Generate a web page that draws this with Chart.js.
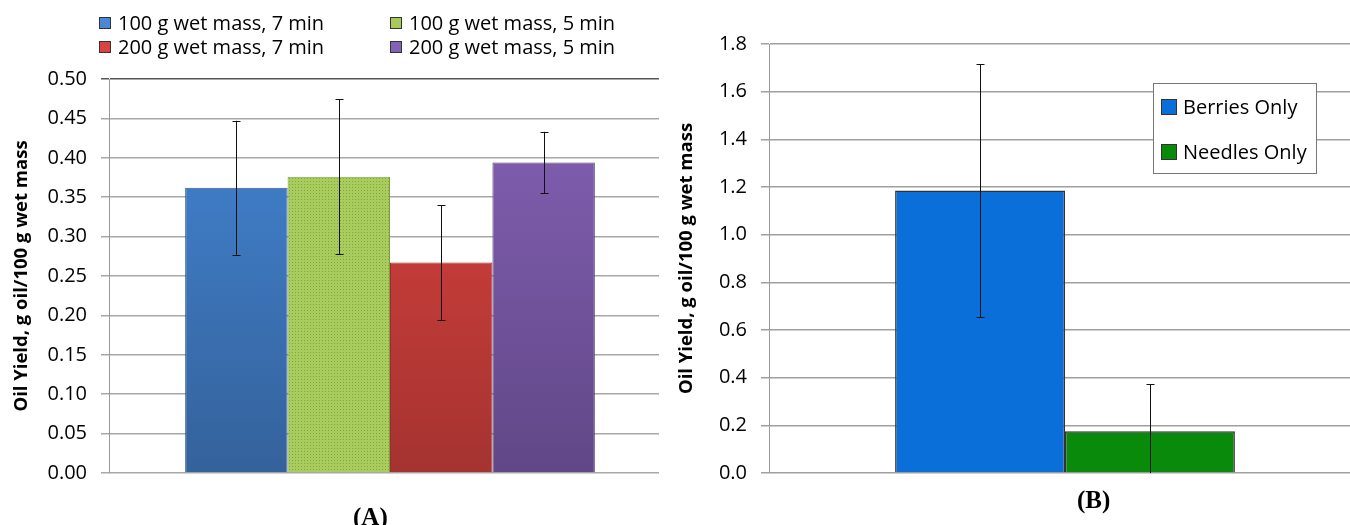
<!DOCTYPE html>
<html>
<head>
<meta charset="utf-8">
<script src="https://cdn.jsdelivr.net/npm/chart.js@4/dist/chart.umd.min.js"></script>
<style>
  body { margin: 0; background: #fff; width: 1350px; height: 525px; overflow: hidden; position: relative; }
  canvas { position: absolute; top: 0; }
  #chartA { left: 0; }
  #chartB { left: 665px; }
  .tag { position: absolute; font-family: "Liberation Serif", serif; font-weight: bold; font-size: 25px; line-height: 28px; color: #000; }
</style>
</head>
<body>
<canvas id="chartA" width="671" height="525"></canvas>
<canvas id="chartB" width="696" height="525"></canvas>
<div class="tag" style="left:353px; top:503px;">(A)</div>
<div class="tag" style="left:1077px; top:486px;">(B)</div>
<script>
// panel A
var seriesA = ['100 g wet mass, 7 min', '100 g wet mass, 5 min', '200 g wet mass, 7 min', '200 g wet mass, 5 min'];
var valuesA = [0.362, 0.376, 0.267, 0.394];
var errorsA = [0.085, 0.098, 0.073, 0.039];
// panel B
var seriesB = ['Berries Only', 'Needles Only'];
var valuesB = [1.185, 0.175];
var errorsB = [0.53, 0.198];

var yTitle = 'Oil Yield, g oil/100 g wet mass';
var tickFont = { family: 'Open Sans', size: 20 };

function vGrad(top, bottom) {
  return function (c) {
    var area = c.chart.chartArea;
    if (!area) return top;
    var g = c.chart.ctx.createLinearGradient(0, area.top, 0, area.bottom);
    g.addColorStop(0, top);
    g.addColorStop(1, bottom);
    return g;
  };
}

function dotPattern() {
  var p = document.createElement('canvas');
  p.width = 3; p.height = 3;
  var c = p.getContext('2d');
  c.fillStyle = '#a9cc5e';
  c.fillRect(0, 0, 3, 3);
  c.fillStyle = '#82a540';
  c.fillRect(1, 1, 1, 1);
  return document.getElementById('chartA').getContext('2d').createPattern(p, 'repeat');
}

var fillsA = [vGrad('#4385d4', '#34629b'), dotPattern(), vGrad('#dc4340', '#a53330'), vGrad('#8561b6', '#614787')];
var edgesA = ['#2f5b93', '#7f9e40', '#943030', '#574080'];
var fillsB = ['#0a6fd9', '#0a8a0a'];

// error bars
var errorBars = {
  id: 'errorBars',
  afterDatasetsDraw: function (chart) {
    var ctx = chart.ctx, y = chart.scales.y, area = chart.chartArea;
    ctx.save();
    ctx.beginPath();
    ctx.rect(area.left, area.top - 20, area.right - area.left, area.bottom - area.top + 20);
    ctx.clip();
    ctx.strokeStyle = '#111';
    ctx.lineWidth = 1;
    chart.data.datasets.forEach(function (ds, i) {
      chart.getDatasetMeta(i).data.forEach(function (bar, j) {
        var v = ds.data[j], e = ds.errors[j];
        var x = Math.round(bar.x) + 0.5;
        var t = y.getPixelForValue(v + e), b = y.getPixelForValue(v - e);
        ctx.beginPath();
        ctx.moveTo(x, t); ctx.lineTo(x, b);
        ctx.moveTo(x - 4, Math.round(t) + 0.5); ctx.lineTo(x + 4, Math.round(t) + 0.5);
        if (b <= area.bottom) { ctx.moveTo(x - 4, Math.round(b) + 0.5); ctx.lineTo(x + 4, Math.round(b) + 0.5); }
        ctx.stroke();
      });
    });
    ctx.restore();
  }
};

// stop the gridlines where the original plot frame ends
var gridStop = {
  id: 'gridStop',
  beforeDatasetsDraw: function (chart, args, o) {
    if (!o.at) return;
    var a = chart.chartArea;
    chart.ctx.clearRect(o.at, a.top - 3, a.right - o.at + 2, a.bottom - a.top + 6);
  }
};

// legend drawn by hand
var handLegend = {
  id: 'handLegend',
  afterDraw: function (chart, args, o) {
    var ctx = chart.ctx;
    ctx.save();
    if (o.box) {
      ctx.fillStyle = '#fff';
      ctx.fillRect(o.box[0], o.box[1], o.box[2], o.box[3]);
      ctx.strokeStyle = '#777';
      ctx.lineWidth = 1;
      ctx.strokeRect(o.box[0] + 0.5, o.box[1] + 0.5, o.box[2], o.box[3]);
    }
    ctx.font = o.size + 'px "Open Sans"';
    ctx.textBaseline = 'middle';
    chart.data.datasets.forEach(function (ds, i) {
      var p = o.pos[i];
      ctx.fillStyle = o.swatch[i];
      ctx.fillRect(p[0], p[1] - o.sw / 2, o.sw, o.sw);
      ctx.strokeStyle = '#333';
      ctx.strokeRect(p[0] + 0.5, p[1] - o.sw / 2 + 0.5, o.sw - 1, o.sw - 1);
      ctx.fillStyle = '#000';
      ctx.fillText(ds.label, p[0] + o.sw + o.gap, p[1] + 1);
    });
    ctx.restore();
  }
};

function yAxis(max, step, digits, width, gridFn) {
  return {
    min: 0, max: max,
    afterFit: function (s) { s.width = width; },
    border: { color: '#9a9a9a' },
    grid: { color: gridFn, tickLength: 8, lineWidth: 1.5 },
    ticks: { stepSize: step, padding: 14, color: '#000', font: tickFont,
             callback: function (v) { return v.toFixed(digits); } },
    title: { display: true, text: yTitle, color: '#000', padding: { top: 11, bottom: 0 },
             font: { family: 'Open Sans', size: 18.5, weight: 'bold' } }
  };
}

new Chart(document.getElementById('chartA'), {
  type: 'bar',
  data: {
    labels: [''],
    datasets: seriesA.map(function (s, i) {
      return { label: s, data: [valuesA[i]], errors: [errorsA[i]],
               backgroundColor: fillsA[i], borderColor: edgesA[i], borderWidth: 1 };
    })
  },
  options: {
    responsive: false, animation: false,
    layout: { padding: { top: 79, bottom: 52, right: 0, left: 0 } },
    datasets: { bar: { categoryPercentage: 0.729, barPercentage: 1 } },
    plugins: {
      legend: { display: false }, tooltip: { enabled: false },
      gridStop: { at: 659 },
      handLegend: { size: 20, sw: 12, gap: 7, pos: [[99, 23], [390, 23], [99, 47], [390, 47]],
                    swatch: ['#4a88d6', '#a6c95c', '#d94441', '#8262b4'] }
    },
    scales: {
      x: { display: false },
      y: yAxis(0.5, 0.05, 2, 109, function (c) { return c.tick && c.tick.value >= 0.5 ? '#555' : '#a8a8a8'; })
    }
  },
  plugins: [gridStop, errorBars, handLegend]
});

new Chart(document.getElementById('chartB'), {
  type: 'bar',
  data: {
    labels: [''],
    datasets: seriesB.map(function (s, i) {
      return { label: s, data: [valuesB[i]], errors: [errorsB[i]],
               backgroundColor: fillsB[i], borderColor: '#333', borderWidth: 1.5 };
    })
  },
  options: {
    responsive: false, animation: false,
    layout: { padding: { top: 44, bottom: 52, right: 0, left: 0 } },
    datasets: { bar: { categoryPercentage: 0.574, barPercentage: 1 } },
    plugins: {
      legend: { display: false }, tooltip: { enabled: false },
      handLegend: { size: 20, sw: 16, gap: 6, box: [488, 83, 163, 90], pos: [[496, 107], [496, 152]],
                    swatch: fillsB }
    },
    scales: {
      x: { display: false },
      y: yAxis(1.8, 0.2, 1, 104, function () { return '#a0a0a0'; })
    }
  },
  plugins: [errorBars, handLegend]
});
</script>
</body>
</html>
